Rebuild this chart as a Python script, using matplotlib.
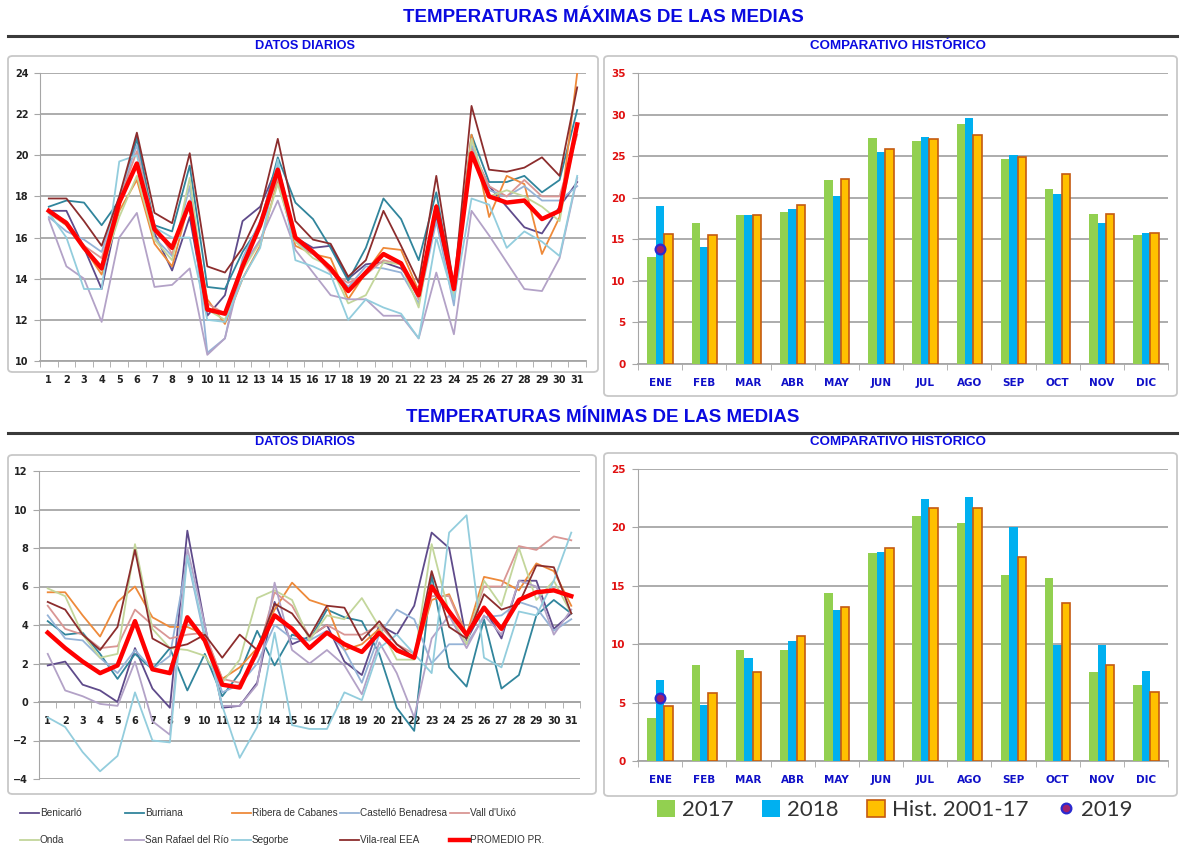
import numpy as np
import matplotlib.pyplot as plt
from matplotlib.patches import FancyBboxPatch
from matplotlib.lines import Line2D

# ---- datos ----
days = np.arange(1, 32)
stations = ["Benicarló", "Burriana", "Ribera de Cabanes", "Castelló Benadresa", "Vall d'Uixó",
            "Onda", "San Rafael del Río", "Segorbe", "Vila-real EEA", "PROMEDIO PR."]
station_colors = ["#5F4B8B", "#31859C", "#EE8A3A", "#95B3D7", "#D99694",
                  "#C3D69B", "#B3A2C7", "#93CDDD", "#8C2D2D", "#FF0000"]

tmax_benicarlo = [17.3, 17.3, 15.5, 13.5, 17.5, 20.9, 16.2, 14.4, 17.0, 12.2, 13.2, 16.8, 17.5, 19.5, 16.0, 15.5,
                  15.6, 14.0, 14.7, 14.8, 14.5, 13.5, 17.0, 13.4, 20.3, 18.5, 17.5, 16.5, 16.2, 17.5, 18.7]
tmax_burriana = [17.5, 17.8, 17.7, 16.6, 17.8, 20.8, 16.6, 16.3, 19.5, 13.6, 13.5, 15.3, 16.6, 19.9, 17.7, 16.9,
                 15.5, 13.9, 15.5, 17.9, 16.9, 14.9, 18.2, 13.3, 21.0, 18.7, 18.7, 19.0, 18.2, 18.8, 22.2]
tmax_ribera = [17.2, 16.6, 15.5, 14.2, 17.3, 18.8, 15.7, 14.6, 17.8, 13.0, 11.8, 14.0, 15.6, 18.8, 15.6, 15.2,
               15.0, 13.0, 14.3, 15.5, 15.4, 13.4, 17.6, 13.3, 21.0, 17.0, 19.0, 18.6, 15.2, 17.0, 24.0]
tmax_castello = [17.0, 16.3, 15.9, 15.3, 18.0, 20.5, 16.0, 15.1, 18.5, 10.4, 11.1, 15.0, 16.8, 19.5, 15.8, 15.2,
                 14.5, 13.6, 14.6, 14.5, 14.3, 12.8, 16.8, 12.7, 20.5, 18.3, 18.0, 18.5, 17.8, 17.8, 18.5]
tmax_vall = [17.3, 16.8, 15.6, 15.0, 17.8, 20.2, 16.6, 15.2, 17.8, 12.8, 12.3, 14.8, 16.5, 18.9, 16.0, 15.3,
             14.3, 13.8, 14.2, 14.9, 14.7, 13.0, 17.5, 13.5, 20.3, 18.5, 18.0, 18.8, 18.0, 18.0, 21.0]
tmax_onda = [17.2, 16.6, 15.6, 14.4, 17.0, 19.0, 15.9, 14.9, 18.9, 12.5, 12.0, 14.4, 15.8, 18.6, 15.8, 15.0,
             14.6, 12.8, 13.2, 14.8, 14.7, 12.6, 17.5, 13.2, 20.8, 18.0, 18.3, 18.0, 17.5, 16.8, 21.5]
tmax_sanrafael = [16.9, 14.6, 14.0, 11.9, 16.0, 17.2, 13.6, 13.7, 14.5, 10.3, 11.1, 14.6, 15.9, 17.8, 15.4, 14.3,
                  13.2, 13.0, 13.0, 12.2, 12.2, 11.1, 14.3, 11.3, 17.3, 16.1, 14.8, 13.5, 13.4, 15.0, 18.9]
tmax_segorbe = [17.2, 16.0, 13.5, 13.5, 19.7, 20.0, 16.5, 16.0, 16.0, 12.0, 11.9, 14.0, 15.5, 19.8, 14.9, 14.6,
                14.2, 12.0, 13.0, 12.6, 12.3, 11.1, 16.0, 13.0, 17.9, 17.6, 15.5, 16.3, 15.8, 15.1, 19.0]
tmax_vilareal = [17.9, 17.9, 16.8, 15.6, 18.0, 21.1, 17.2, 16.7, 20.1, 14.6, 14.3, 15.5, 17.3, 20.8, 16.8, 15.9,
                 15.7, 14.1, 14.9, 17.3, 15.6, 13.8, 19.0, 13.6, 22.4, 19.3, 19.2, 19.4, 19.9, 19.0, 23.3]
tmax_promedio = [17.3, 16.7, 15.5, 14.5, 17.7, 19.6, 16.4, 15.5, 17.7, 12.5, 12.3, 14.6, 16.6, 19.3, 16.0, 15.3,
                 14.5, 13.4, 14.3, 15.2, 14.75, 13.2, 17.5, 13.5, 20.1, 18.0, 17.7, 17.8, 16.9, 17.3, 21.5]

tmin_benicarlo = [1.9, 2.1, 0.9, 0.6, 0.0, 2.8, 0.7, -0.3, 8.9, 4.0, -0.3, -0.2, 1.0, 5.2, 3.0, 3.4,
                  4.0, 2.1, 1.4, 4.0, 3.5, 5.0, 8.8, 8.0, 3.2, 4.9, 3.3, 6.3, 6.3, 3.8, 4.6]
tmin_burriana = [4.2, 3.5, 3.6, 2.5, 1.2, 2.5, 1.7, 2.8, 0.6, 2.5, 0.3, 1.5, 3.7, 1.9, 3.5, 3.2,
                 4.8, 4.4, 4.2, 2.5, -0.3, -1.5, 6.6, 1.8, 0.8, 4.3, 0.7, 1.4, 4.5, 5.3, 4.6]
tmin_ribera = [5.7, 5.7, 4.5, 3.4, 5.2, 6.0, 4.4, 3.9, 3.9, 3.5, 1.2, 1.8, 2.8, 4.8, 6.2, 5.3,
               5.0, 2.7, 3.0, 3.8, 2.6, 2.3, 5.3, 5.6, 3.5, 6.5, 6.3, 5.8, 7.2, 6.8, 5.0]
tmin_castello = [4.5, 3.3, 3.2, 2.3, 1.5, 2.7, 1.7, 2.4, 7.5, 3.3, 0.5, 0.9, 2.0, 4.0, 3.3, 3.2,
                 3.7, 2.7, 1.0, 3.5, 4.8, 4.3, 2.0, 3.0, 3.0, 4.4, 4.5, 5.2, 4.9, 3.7, 4.3]
tmin_vall = [5.0, 3.8, 3.5, 2.8, 2.9, 4.8, 4.0, 3.3, 3.5, 3.6, 1.2, 1.0, 2.4, 5.7, 5.0, 3.4,
             4.0, 3.5, 3.5, 4.0, 3.0, 2.5, 5.5, 5.5, 3.4, 6.0, 6.0, 8.1, 7.9, 8.6, 8.4]
tmin_onda = [5.9, 5.5, 3.5, 2.3, 2.5, 8.2, 3.8, 2.8, 2.7, 2.4, 1.0, 2.2, 5.4, 5.8, 5.3, 3.2,
             4.5, 4.3, 5.4, 3.9, 2.2, 2.2, 8.2, 4.6, 3.0, 6.3, 5.0, 8.0, 5.3, 6.3, 4.6]
tmin_sanrafael = [2.5, 0.6, 0.3, -0.1, -0.2, 2.1, -1.0, -1.7, 8.0, 4.0, -0.2, -0.2, 0.9, 6.2, 2.7, 2.0,
                  2.7, 1.9, 0.4, 3.1, 1.5, -0.8, 3.3, 4.5, 2.8, 4.5, 3.5, 6.3, 6.0, 3.5, 4.8]
tmin_segorbe = [-0.8, -1.3, -2.6, -3.6, -2.8, 0.5, -2.0, -2.1, 7.6, 3.5, -0.2, -2.9, -1.3, 3.6, -1.2, -1.4,
                -1.4, 0.5, 0.1, 2.8, 3.5, 2.5, 1.5, 8.8, 9.7, 2.3, 1.8, 4.7, 4.5, 6.3, 8.8]
tmin_vilareal = [5.2, 4.8, 3.5, 2.7, 3.9, 7.9, 3.3, 2.8, 3.0, 3.5, 2.3, 3.5, 2.7, 5.1, 4.6, 3.4,
                 5.0, 4.9, 3.2, 4.2, 3.0, 2.3, 6.8, 3.9, 3.3, 5.6, 4.8, 5.1, 7.1, 7.0, 4.6]
tmin_promedio = [3.6, 2.8, 2.1, 1.5, 1.9, 4.2, 1.7, 1.5, 4.4, 3.2, 0.9, 0.75, 2.65, 4.5, 3.8, 2.8,
                 3.6, 3.0, 2.6, 3.6, 2.7, 2.3, 6.0, 4.7, 3.5, 4.9, 3.8, 5.3, 5.7, 5.8, 5.5]

tmax_series = [tmax_benicarlo, tmax_burriana, tmax_ribera, tmax_castello, tmax_vall,
               tmax_onda, tmax_sanrafael, tmax_segorbe, tmax_vilareal, tmax_promedio]
tmin_series = [tmin_benicarlo, tmin_burriana, tmin_ribera, tmin_castello, tmin_vall,
               tmin_onda, tmin_sanrafael, tmin_segorbe, tmin_vilareal, tmin_promedio]

months = ["ENE", "FEB", "MAR", "ABR", "MAY", "JUN", "JUL", "AGO", "SEP", "OCT", "NOV", "DIC"]
max_2017 = [12.9, 16.9, 17.9, 18.3, 22.1, 27.2, 26.8, 28.9, 24.7, 21.1, 18.0, 15.5]
max_2018 = [19.0, 14.1, 17.9, 18.6, 20.2, 25.5, 27.3, 29.6, 25.1, 20.4, 16.9, 15.7]
max_hist = [15.6, 15.5, 17.9, 19.1, 22.2, 25.9, 27.1, 27.5, 24.9, 22.8, 18.0, 15.8]
max_2019 = [13.8]
min_2017 = [3.7, 8.2, 9.5, 9.5, 14.4, 17.8, 21.0, 20.4, 15.9, 15.7, 7.6, 6.5]
min_2018 = [6.9, 4.8, 8.8, 10.3, 12.9, 17.9, 22.4, 22.6, 20.0, 9.9, 9.9, 7.7]
min_hist = [4.7, 5.8, 7.6, 10.7, 13.2, 18.2, 21.7, 21.7, 17.5, 13.5, 8.2, 5.9]
min_2019 = [5.4]

# ---- figura ----
W, H = 1183, 852
fig = plt.figure(figsize=(W / 100, H / 100), dpi=100)
fig.patch.set_facecolor("white")
BLUE = "#0A0AE0"
GRID = "#A6A6A6"


def px_axes(l, t, r, b):
    return fig.add_axes([l / W, 1 - b / H, (r - l) / W, (b - t) / H])


def box(l, t, r, b):
    fig.patches.append(FancyBboxPatch((l / W, 1 - b / H), (r - l) / W, (b - t) / H,
                                      boxstyle="round,pad=0,rounding_size=0.004",
                                      transform=fig.transFigure, fill=False,
                                      edgecolor="#C8C8C8", lw=1.3, zorder=0))


def hline(y):
    fig.add_artist(Line2D([8 / W, 1177 / W], [1 - y / H] * 2, color="#3A3A3A", lw=2.2))


def ftext(x, y, s, size, **kw):
    fig.text(x / W, 1 - y / H, s, ha="center", va="center", fontsize=size,
             fontweight="bold", color=BLUE, family="Liberation Sans", **kw)


# titulos y marcos
ftext(603, 18, "TEMPERATURAS MÁXIMAS DE LAS MEDIAS", 13.5)
hline(36)
ftext(305, 46, "DATOS DIARIOS", 9.2)
ftext(898, 46, "COMPARATIVO HISTÓRICO", 9.6)
box(8, 56, 598, 372)
box(604, 56, 1177, 396)

ftext(603, 418, "TEMPERATURAS MÍNIMAS DE LAS MEDIAS", 13.5)
hline(433)
ftext(305, 442, "DATOS DIARIOS", 9.2)
ftext(898, 442, "COMPARATIVO HISTÓRICO", 9.6)
box(8, 455, 596, 794)
box(604, 453, 1177, 796)


def line_panel(ax, series, ylim, yticks, zero_axis=False):
    lines = []
    for name, vals, col in zip(stations, series, station_colors):
        lw = 3.2 if name.startswith("PROMEDIO") else 1.3
        z = 5 if name.startswith("PROMEDIO") else 3
        ln, = ax.plot(days, vals, color=col, lw=lw, zorder=z, label=name)
        lines.append(ln)
    ax.set_xlim(0.5, 31.5)
    ax.set_ylim(*ylim)
    ax.set_yticks(yticks)
    ax.yaxis.grid(True, color=GRID, lw=1.3)
    ax.set_axisbelow(True)
    for s in ["top", "right"]:
        ax.spines[s].set_visible(False)
    ax.spines["left"].set_color(GRID)
    ax.spines["bottom"].set_color(GRID)
    ax.spines["bottom"].set_linewidth(1.3)
    if zero_axis:
        ax.spines["bottom"].set_position(("data", 0))
    ax.set_xticks(days)
    ax.set_xticklabels([str(d) for d in days])
    ax.set_xticks(np.arange(0.5, 32, 1), minor=True)
    ax.tick_params(axis="x", which="major", length=0, pad=10, labelsize=7, labelcolor="#222222")
    ax.tick_params(axis="x", which="minor", length=4, color=GRID)
    ax.tick_params(axis="y", length=4, color=GRID, labelsize=7, labelcolor="#222222", pad=4)
    for lab in ax.get_xticklabels() + ax.get_yticklabels():
        lab.set_fontweight("bold")
    return lines


def bar_panel(ax, v17, v18, vh, v19, ylim, yticks):
    x = np.arange(len(months))
    w = 0.19
    b17 = ax.bar(x - w, v17, w, color="#92D050", zorder=3)
    b18 = ax.bar(x, v18, w, color="#00B0F0", zorder=3)
    bh = ax.bar(x + w, vh, w, color="#FFC000", edgecolor="#C55A11", lw=1.2, zorder=3)
    p19, = ax.plot(x[:len(v19)], v19, "o", ms=7, mfc="#A0206E", mec="#2A2AD0", mew=1.6, zorder=5)
    ax.set_xlim(-0.5, len(months) - 0.5)
    ax.set_ylim(*ylim)
    ax.set_yticks(yticks)
    ax.yaxis.grid(True, color=GRID, lw=1.3)
    ax.set_axisbelow(True)
    for s in ["top", "right"]:
        ax.spines[s].set_visible(False)
    ax.spines["left"].set_color(GRID)
    ax.spines["bottom"].set_color(GRID)
    ax.spines["bottom"].set_linewidth(1.3)
    ax.set_xticks(x)
    ax.set_xticklabels(months)
    ax.set_xticks(np.arange(-0.5, len(months), 1), minor=True)
    ax.tick_params(axis="x", which="major", length=0, pad=10, labelsize=7.5, labelcolor="#1010C8")
    ax.tick_params(axis="x", which="minor", length=4, color=GRID)
    ax.tick_params(axis="y", length=4, color=GRID, labelsize=7.5, labelcolor="#E01010", pad=5)
    for lab in ax.get_xticklabels() + ax.get_yticklabels():
        lab.set_fontweight("bold")
    return b17, b18, bh, p19


ax1 = px_axes(40, 73, 586, 361)
line_panel(ax1, tmax_series, (10, 24), range(10, 25, 2))

ax2 = px_axes(638, 73, 1168, 364)
bar_panel(ax2, max_2017, max_2018, max_hist, max_2019, (0, 35), range(0, 36, 5))

ax3 = px_axes(39, 471, 580, 779)
lines = line_panel(ax3, tmin_series, (-4, 12), range(-4, 13, 2), zero_axis=True)

ax4 = px_axes(638, 469, 1168, 761)
b17, b18, bh, p19 = bar_panel(ax4, min_2017, min_2018, min_hist, min_2019, (0, 25), range(0, 26, 5))

# leyenda de estaciones (5 columnas x 2 filas)
col_x = [20, 125, 232, 340, 450]
row_y = [813, 840]
for i, ln in enumerate(lines):
    fig.legend([ln], [stations[i]], loc="center left",
               bbox_to_anchor=(col_x[i % 5] / W, 1 - row_y[i // 5] / H),
               frameon=False, handlelength=1.9, handletextpad=0.1,
               borderpad=0, borderaxespad=0,
               prop={"family": "Liberation Sans", "size": 7.2}, labelcolor="#333333")

# leyenda de barras
fig.legend([b17, b18, bh, p19], ["2017", "2018", "Hist. 2001-17", "2019"],
           loc="center", bbox_to_anchor=(895 / W, 1 - 810 / H), ncol=4, frameon=False,
           handlelength=0.8, handleheight=0.8, handletextpad=0.3,
           columnspacing=1.3, borderpad=0, labelcolor="#333333",
           prop={"family": "Lato", "size": 16})

fig.savefig("out.png", dpi=100, facecolor="white")
